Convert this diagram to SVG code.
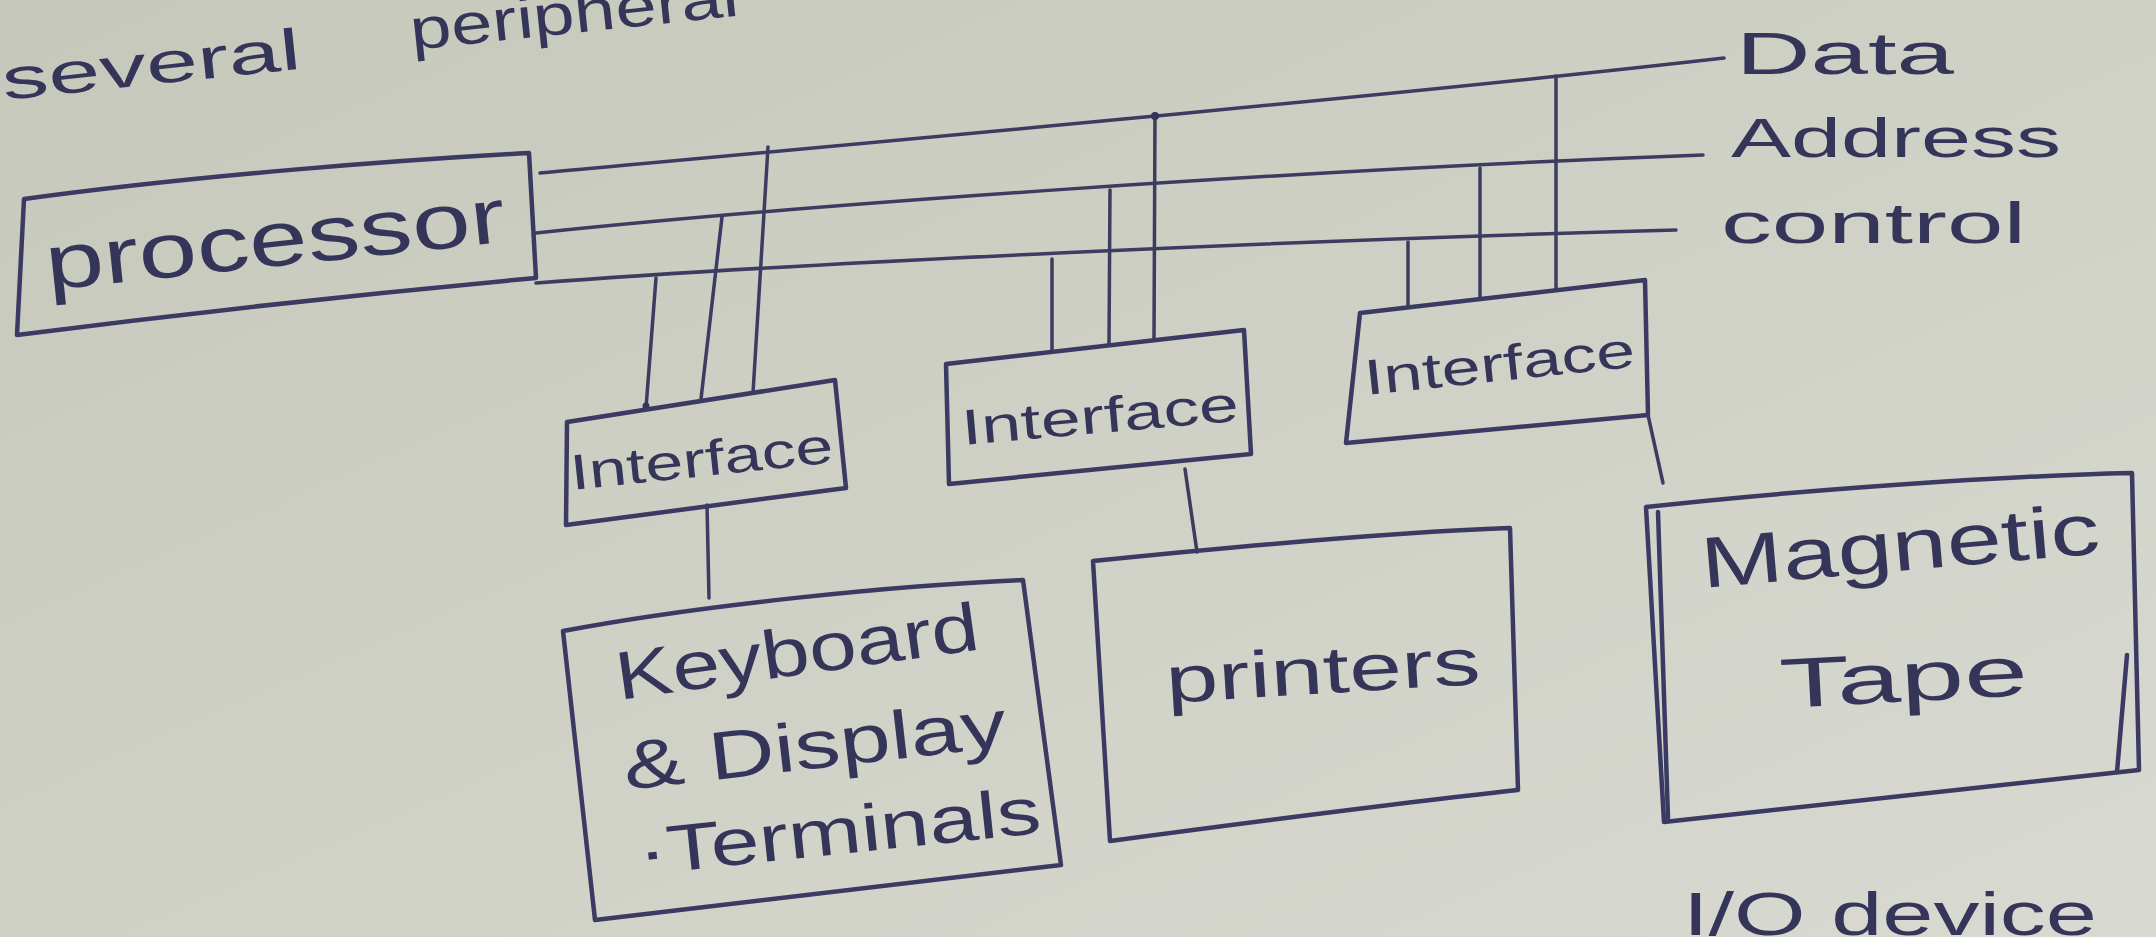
<svg xmlns="http://www.w3.org/2000/svg" width="2156" height="937" viewBox="0 0 2156 937">
<defs>
<linearGradient id="paper" x1="0" y1="0" x2="1" y2="1">
<stop offset="0" stop-color="#c6c8bb"/>
<stop offset="0.5" stop-color="#cfd1c6"/>
<stop offset="1" stop-color="#d8dad2"/>
</linearGradient>
<style>
.box{fill:none;stroke:#3a3a62;stroke-width:4.5;stroke-linejoin:round;stroke-linecap:round}
.ln{fill:none;stroke:#3c3c60;stroke-width:3.5;stroke-linecap:round}
.t{font-family:"Liberation Sans","DejaVu Sans",sans-serif;fill:#35355a}
.dot{fill:#35355a}
</style>
</defs>
<rect width="2156" height="937" fill="url(#paper)"/>

<g id="caption">
<text class="t" x="4" y="100" font-size="58" textLength="300" lengthAdjust="spacingAndGlyphs" transform="rotate(-6 4 100)">several</text>
<text class="t" x="412" y="50" font-size="58" textLength="330" lengthAdjust="spacingAndGlyphs" transform="rotate(-6 412 50)">peripheral</text>
<text class="t" x="1683" y="935" font-size="62" textLength="414" lengthAdjust="spacingAndGlyphs">I/O device</text>
</g>

<g id="connectors">
<path class="ln" d="M540,173 C900,140 1400,95 1724,58"/>
<path class="ln" d="M536,233 C800,205 1300,170 1703,155"/>
<path class="ln" d="M536,283 C800,263 1300,240 1676,230"/>
<path class="ln" d="M656,278 L646,408"/>
<path class="ln" d="M722,217 L701,399"/>
<path class="ln" d="M768,147 L753,393"/>
<path class="ln" d="M1052,259 L1052,352"/>
<path class="ln" d="M1110,190 L1109,345"/>
<path class="ln" d="M1155,114 L1154,338"/>
<path class="ln" d="M1408,242 L1408,307"/>
<path class="ln" d="M1480,168 L1480,299"/>
<path class="ln" d="M1556,76 L1556,290"/>
<path class="ln" d="M707,505 L709,598"/>
<path class="ln" d="M1185,469 L1197,552"/>
<path class="ln" d="M1648,415 L1663,483"/>
<circle class="dot" cx="1155" cy="116" r="4"/>
<circle class="dot" cx="646" cy="406" r="3.5"/>
</g>

<g id="bus-labels">
<text class="t" x="1736" y="74" font-size="60" textLength="218" lengthAdjust="spacingAndGlyphs">Data</text>
<text class="t" x="1731" y="157" font-size="56" textLength="330" lengthAdjust="spacingAndGlyphs">Address</text>
<text class="t" x="1721" y="243" font-size="58" textLength="305" lengthAdjust="spacingAndGlyphs">control</text>
</g>

<g id="processor">
<path class="box" d="M24,199 C200,175 400,160 529,153 L536,278 C350,295 150,318 17,335 Z"/>
<text class="t" x="48" y="290" font-size="78" textLength="462" lengthAdjust="spacingAndGlyphs" transform="rotate(-6 48 290)">processor</text>
</g>

<g id="interface1">
<path class="box" d="M567,422 L835,380 L846,488 L566,525 Z"/>
<text class="t" x="572" y="490" font-size="50" textLength="264" lengthAdjust="spacingAndGlyphs" transform="rotate(-6 572 490)">Interface</text>
</g>

<g id="interface2">
<path class="box" d="M946,364 L1244,330 L1251,454 L949,484 Z"/>
<text class="t" x="963" y="445" font-size="50" textLength="278" lengthAdjust="spacingAndGlyphs" transform="rotate(-5 963 445)">Interface</text>
</g>

<g id="interface3">
<path class="box" d="M1360,313 L1645,280 L1648,415 L1346,443 Z"/>
<text class="t" x="1366" y="395" font-size="50" textLength="272" lengthAdjust="spacingAndGlyphs" transform="rotate(-6 1366 395)">Interface</text>
</g>

<g id="keyboard">
<path class="box" d="M563,631 C700,605 900,585 1023,580 L1061,865 L595,920 Z"/>
<text class="t" x="619" y="700" font-size="68" textLength="366" lengthAdjust="spacingAndGlyphs" transform="rotate(-8 619 700)">Keyboard</text>
<text class="t" x="626" y="790" font-size="68" textLength="385" lengthAdjust="spacingAndGlyphs" transform="rotate(-6.5 626 790)">&amp; Display</text>
<text class="t" x="640" y="875" font-size="66" textLength="405" lengthAdjust="spacingAndGlyphs" transform="rotate(-6 640 875)">·Terminals</text>
</g>

<g id="printers">
<path class="box" d="M1093,561 C1250,545 1400,532 1510,528 L1518,790 C1380,805 1230,825 1110,841 Z"/>
<text class="t" x="1167" y="703" font-size="66" textLength="315" lengthAdjust="spacingAndGlyphs" transform="rotate(-3.5 1167 703)">printers</text>
</g>

<g id="tape">
<path class="box" d="M1646,507 C1800,490 2000,476 2132,473 L2139,770 L1664,822 Z"/>
<path class="box" d="M1658,512 L1668,818"/>
<path class="box" d="M2127,655 L2117,772"/>
<text class="t" x="1703" y="588" font-size="72" textLength="400" lengthAdjust="spacingAndGlyphs" transform="rotate(-5 1703 588)">Magnetic</text>
<text class="t" x="1781" y="708" font-size="70" textLength="248" lengthAdjust="spacingAndGlyphs" transform="rotate(-3 1781 708)">Tape</text>
</g>
</svg>
